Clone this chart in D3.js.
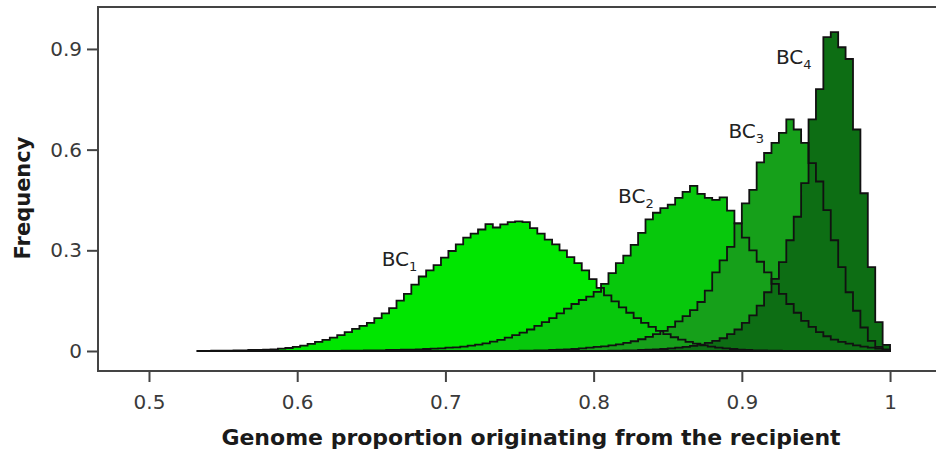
<!DOCTYPE html>
<html>
<head>
<meta charset="utf-8">
<script src="https://cdn.jsdelivr.net/npm/d3@7"></script>
<style>
  html, body { margin: 0; padding: 0; background: #fff; }
  svg { display: block; }
  text { font-family: "DejaVu Sans", Verdana, sans-serif; }
</style>
</head>
<body>
<svg id="chart" width="936" height="453"></svg>
<script>
// ---- data ----
const binWidth = 0.005;
const seriesNames = ["BC1", "BC2", "BC3", "BC4"];
const seriesStarts = [0.532, 0.630, 0.750, 0.810];

const bc1Values = [
  0.000, 0.000, 0.001, 0.001, 0.001, 0.002, 0.002, 0.003, 0.003, 0.004, 0.005,
  0.007, 0.009, 0.012, 0.016, 0.021, 0.027, 0.033, 0.040, 0.047, 0.056,
  0.066, 0.075, 0.084, 0.098, 0.112, 0.128, 0.150, 0.170, 0.198, 0.222,
  0.240, 0.256, 0.278, 0.298, 0.318, 0.338, 0.350, 0.362, 0.378, 0.368,
  0.377, 0.384, 0.386, 0.384, 0.366, 0.350, 0.332, 0.318, 0.300, 0.280,
  0.262, 0.240, 0.214, 0.188, 0.166, 0.148, 0.130, 0.114, 0.098, 0.084,
  0.072, 0.060, 0.050, 0.041, 0.034, 0.027, 0.022, 0.017, 0.013, 0.010,
  0.008, 0.006, 0.004, 0.003, 0.002, 0.002, 0.001, 0.001, 0.000
];
const bc2Values = [
  0.001, 0.001, 0.001, 0.002, 0.002, 0.002, 0.003, 0.003, 0.004, 0.004,
  0.005, 0.006, 0.007, 0.008, 0.010, 0.011, 0.013, 0.016, 0.019, 0.023,
  0.028, 0.033, 0.040, 0.047, 0.055, 0.064, 0.075, 0.086, 0.098, 0.112,
  0.126, 0.140, 0.152, 0.162, 0.176, 0.200, 0.232, 0.262, 0.284, 0.316,
  0.352, 0.392, 0.412, 0.426, 0.436, 0.456, 0.474, 0.492, 0.468, 0.456,
  0.450, 0.458, 0.418, 0.380, 0.338, 0.300, 0.266, 0.234, 0.200, 0.170,
  0.140, 0.114, 0.090, 0.072, 0.056, 0.044, 0.034, 0.027, 0.022, 0.017,
  0.013, 0.010, 0.007, 0.004
];
const bc3Values = [
  0.001, 0.001, 0.002, 0.002, 0.003, 0.004, 0.005, 0.006, 0.008, 0.010,
  0.012, 0.014, 0.017, 0.020, 0.024, 0.029, 0.035, 0.042, 0.050, 0.060,
  0.072, 0.088, 0.104, 0.122, 0.146, 0.180, 0.234, 0.270, 0.310, 0.380,
  0.440, 0.480, 0.562, 0.590, 0.620, 0.650, 0.690, 0.660, 0.620, 0.560,
  0.505, 0.420, 0.330, 0.250, 0.175, 0.120, 0.070, 0.030, 0.012, 0.004
];
const bc4Values = [
  0.001, 0.001, 0.002, 0.002, 0.003, 0.004, 0.005, 0.006, 0.008, 0.010,
  0.012, 0.015, 0.019, 0.024, 0.030, 0.038, 0.050, 0.064, 0.084, 0.106,
  0.135, 0.175, 0.215, 0.265, 0.330, 0.400, 0.500, 0.690, 0.780, 0.935,
  0.950, 0.905, 0.870, 0.660, 0.470, 0.250, 0.086, 0.018
];
const seriesValues = [bc1Values, bc2Values, bc3Values, bc4Values];
const seriesColors = ["#00e600", "#07c80c", "#16a01a", "#0d6e14"];

const labelTexts = ["BC", "BC", "BC", "BC"];
const labelSubs = ["1", "2", "3", "4"];
const labelX = [0.657, 0.8165, 0.891, 0.923];
const labelY = [0.253, 0.441, 0.635, 0.855];

const xTicks = [0.5, 0.6, 0.7, 0.8, 0.9, 1];
const yTicks = [0, 0.3, 0.6, 0.9];
const xTitle = "Genome proportion originating from the recipient";
const yTitle = "Frequency";

// ---- layout ----
(function () {
const svg = d3.select("#chart");
const pLeft = 98, pTop = 7, pBottom = 371, pRight = 940;
const x = d3.scaleLinear().domain([0.4656, 1.0337]).range([pLeft, pRight]);
const y = d3.scaleLinear().domain([-0.0596, 1.025]).range([pBottom, pTop]);

const area = d3.area()
  .curve(d3.curveStepAfter)
  .x(d => x(d[0]))
  .y0(y(0))
  .y1(d => y(d[1]));

const paths = seriesValues.map((vals, s) => {
  const pts = vals.map((v, i) => [seriesStarts[s] + i * binWidth, v]);
  pts.push([seriesStarts[s] + vals.length * binWidth, vals[vals.length - 1]]);
  return area(pts);
});

// fills
svg.append("g").selectAll("path").data(paths).join("path")
  .attr("d", d => d)
  .attr("fill", (d, i) => seriesColors[i])
  .attr("stroke", "none");
// outlines
svg.append("g").selectAll("path").data(paths).join("path")
  .attr("d", d => d)
  .attr("fill", "none")
  .attr("stroke", "#111")
  .attr("stroke-width", 1.8)
  .attr("stroke-linejoin", "miter");

// frame
svg.append("path")
  .attr("d", `M${pRight},${pTop}H${pLeft}V${pBottom}H${pRight}`)
  .attr("fill", "none").attr("stroke", "#444").attr("stroke-width", 2);

// axes
const axisColor = "#444";
const fmt = d => String(d);
const gx = svg.append("g").attr("transform", `translate(0,${pBottom})`)
  .call(d3.axisBottom(x).tickValues(xTicks).tickFormat(fmt).tickSize(11).tickPadding(13));
const gy = svg.append("g").attr("transform", `translate(${pLeft},0)`)
  .call(d3.axisLeft(y).tickValues(yTicks).tickFormat(fmt).tickSize(11).tickPadding(5));
[gx, gy].forEach(g => {
  g.select(".domain").remove();
  g.selectAll(".tick line").attr("stroke", axisColor).attr("stroke-width", 2);
  g.selectAll(".tick text").attr("fill", "#3a3a3a")
    .style("font-family", "'DejaVu Sans', sans-serif").style("font-size", "20px");
});

// titles
svg.append("text")
  .attr("x", 531).attr("y", 445)
  .attr("text-anchor", "middle")
  .style("font-size", "22px").style("font-weight", "bold").attr("fill", "#1a1a1a")
  .text(xTitle);
svg.append("text")
  .attr("transform", "translate(30,198) rotate(-90)")
  .attr("text-anchor", "middle")
  .style("font-size", "21px").style("font-weight", "bold").attr("fill", "#1a1a1a")
  .text(yTitle);

// series labels
labelTexts.forEach((t, i) => {
  const tx = svg.append("text")
    .attr("x", x(labelX[i])).attr("y", y(labelY[i]))
    .style("font-size", "20px").attr("fill", "#222");
  tx.append("tspan").text(t);
  tx.append("tspan").attr("dy", 5).style("font-size", "13px").text(labelSubs[i]);
});
})();
</script>
</body>
</html>
